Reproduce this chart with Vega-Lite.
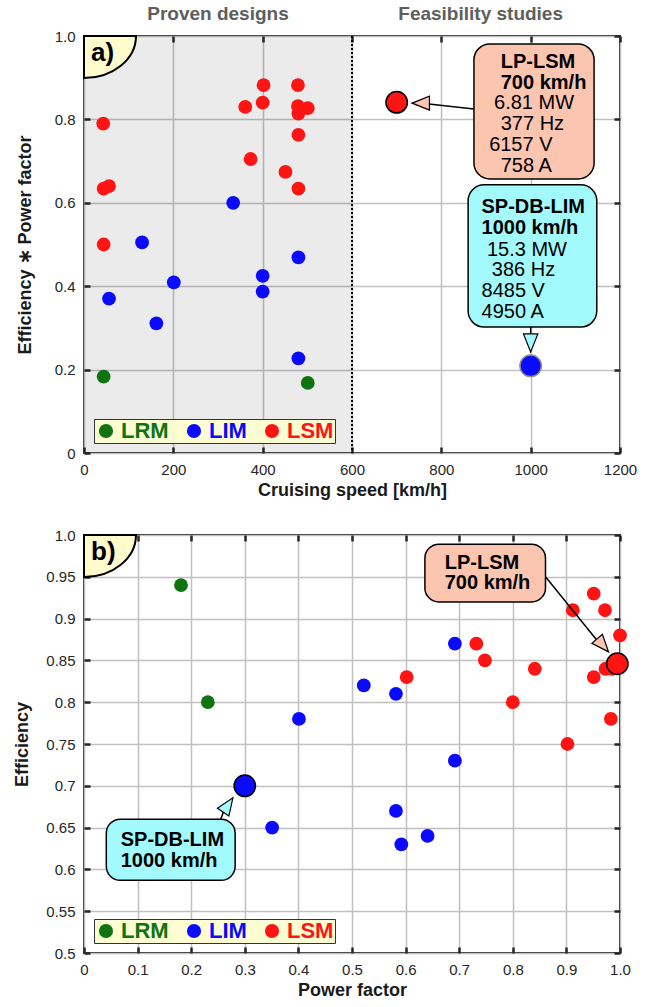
{
  "$schema": "https://vega.github.io/schema/vega-lite/v6.json",
  "padding": {"left": 12, "top": 4, "right": 5, "bottom": 5},
  "background": "white",
  "spacing": 27,
  "config": {
    "font": "Liberation Sans",
    "view": {"stroke": "#262626", "strokeWidth": 2},
    "axis": {
      "labelFont": "Liberation Sans", "labelFontSize": 15, "labelColor": "#262626",
      "titleFont": "Liberation Sans", "titleFontSize": 18, "titleFontWeight": "bold", "titleColor": "#1a1a1a",
      "gridColor": "#c0c0c0", "gridWidth": 1.5, "gridOpacity": 1,
      "domain": false, "tickColor": "#262626", "tickWidth": 2.5, "tickSize": -6,
      "labelPadding": 15, "labelFlush": false, "labelOverlap": false, "titlePadding": 4
    },
    "legend": {
      "orient": "bottom-left", "offset": 10, "direction": "horizontal",
      "fillColor": "#fdfdd3", "strokeColor": "#333333", "padding": 1,
      "symbolSize": 200, "symbolType": "circle", "symbolStrokeWidth": 0, "symbolOpacity": 1,
      "labelFont": "Liberation Sans", "labelFontSize": 22, "labelFontWeight": "bold",
      "labelOffset": 4, "columnPadding": 14
    },
    "text": {"font": "Liberation Sans"}
  },
  "datasets": {
    "one": [{"k": 1}],
    "speedData": [
      {"type": "LSM", "speed": 43, "value": 0.79},
      {"type": "LSM", "speed": 44, "value": 0.634},
      {"type": "LSM", "speed": 56, "value": 0.64},
      {"type": "LSM", "speed": 44, "value": 0.5},
      {"type": "LSM", "speed": 402, "value": 0.882},
      {"type": "LSM", "speed": 479, "value": 0.882},
      {"type": "LSM", "speed": 361, "value": 0.83},
      {"type": "LSM", "speed": 400, "value": 0.84},
      {"type": "LSM", "speed": 479, "value": 0.832},
      {"type": "LSM", "speed": 501, "value": 0.827},
      {"type": "LSM", "speed": 480, "value": 0.814},
      {"type": "LSM", "speed": 480, "value": 0.763},
      {"type": "LSM", "speed": 373, "value": 0.705},
      {"type": "LSM", "speed": 451, "value": 0.674},
      {"type": "LSM", "speed": 480, "value": 0.634},
      {"type": "LIM", "speed": 334, "value": 0.6},
      {"type": "LIM", "speed": 130, "value": 0.505},
      {"type": "LIM", "speed": 480, "value": 0.469},
      {"type": "LIM", "speed": 400, "value": 0.425},
      {"type": "LIM", "speed": 400, "value": 0.387},
      {"type": "LIM", "speed": 201, "value": 0.409},
      {"type": "LIM", "speed": 56, "value": 0.37},
      {"type": "LIM", "speed": 162, "value": 0.311},
      {"type": "LIM", "speed": 480, "value": 0.227},
      {"type": "LRM", "speed": 44, "value": 0.183},
      {"type": "LRM", "speed": 501, "value": 0.168}
    ],
    "pfData": [
      {"type": "LSM", "pf": 0.732, "eff": 0.87},
      {"type": "LSM", "pf": 0.748, "eff": 0.85},
      {"type": "LSM", "pf": 0.602, "eff": 0.83},
      {"type": "LSM", "pf": 0.841, "eff": 0.84},
      {"type": "LSM", "pf": 0.8, "eff": 0.8},
      {"type": "LSM", "pf": 0.951, "eff": 0.93},
      {"type": "LSM", "pf": 0.912, "eff": 0.91},
      {"type": "LSM", "pf": 0.972, "eff": 0.91},
      {"type": "LSM", "pf": 1.0, "eff": 0.88},
      {"type": "LSM", "pf": 0.951, "eff": 0.83},
      {"type": "LSM", "pf": 0.973, "eff": 0.84},
      {"type": "LSM", "pf": 0.983, "eff": 0.78},
      {"type": "LSM", "pf": 0.902, "eff": 0.75},
      {"type": "LSM", "pf": 0.99, "eff": 0.845},
      {"type": "LSM", "pf": 0.985, "eff": 0.84},
      {"type": "LIM", "pf": 0.401, "eff": 0.78},
      {"type": "LIM", "pf": 0.692, "eff": 0.87},
      {"type": "LIM", "pf": 0.522, "eff": 0.82},
      {"type": "LIM", "pf": 0.582, "eff": 0.81},
      {"type": "LIM", "pf": 0.351, "eff": 0.65},
      {"type": "LIM", "pf": 0.692, "eff": 0.73},
      {"type": "LIM", "pf": 0.582, "eff": 0.67},
      {"type": "LIM", "pf": 0.641, "eff": 0.64},
      {"type": "LIM", "pf": 0.592, "eff": 0.63},
      {"type": "LRM", "pf": 0.181, "eff": 0.94},
      {"type": "LRM", "pf": 0.231, "eff": 0.8}
    ],
    "highlight": [
      {"type": "LSM", "name": "LP-LSM", "speed": 700, "value": 0.841, "pf": 0.995, "eff": 0.846},
      {"type": "LIM", "name": "SP-DB-LIM", "speed": 1000, "value": 0.209, "pf": 0.3, "eff": 0.7}
    ]
  },
  "resolve": {"legend": {"color": "independent"}, "scale": {"color": "independent"}},
  "vconcat": [
    {
      "width": 536, "height": 417,
      "resolve": {"axis": {"x": "independent", "y": "independent"}},
      "layer": [
        {
          "data": {"name": "one"},
          "mark": {"type": "rect", "fill": "#000000", "opacity": 0.08},
          "encoding": {
            "x": {"datum": 0, "type": "quantitative", "axis": null},
            "x2": {"datum": 600},
            "y": {"datum": 0, "type": "quantitative", "axis": null},
            "y2": {"datum": 1}
          }
        },
        {
          "data": {"name": "one"},
          "mark": {"type": "rule", "stroke": "#000000", "strokeWidth": 2, "strokeDash": [2, 2]},
          "encoding": {"x": {"datum": 600, "type": "quantitative", "axis": null}}
        },
        {
          "data": {"name": "speedData"},
          "mark": {"type": "point", "filled": true, "size": 190, "opacity": 1, "strokeWidth": 0},
          "encoding": {
            "x": {"field": "speed", "type": "quantitative", "scale": {"domain": [0, 1200], "nice": false},
                  "axis": {"orient": "bottom", "values": [0, 200, 400, 600, 800, 1000, 1200], "format": "d", "title": "Cruising speed [km/h]", "grid": true}},
            "y": {"field": "value", "type": "quantitative", "scale": {"domain": [0, 1], "nice": false},
                  "axis": {"orient": "left", "values": [0, 0.2, 0.4, 0.6, 0.8, 1], "labelExpr": "datum.value == 0 ? '0' : format(datum.value, '.1f')",
                           "title": "Efficiency  ∗ Power factor", "grid": true, "titlePadding": 20}},
            "color": {"field": "type", "type": "nominal",
                      "scale": {"domain": ["LRM", "LIM", "LSM"], "range": ["#0f730f", "#0a0aff", "#ff1414"]},
                      "legend": {"title": null, "encode": {"labels": {"update": {"fill": {"signal": "datum.value === 'LRM' ? '#0f730f' : datum.value === 'LIM' ? '#0a0aff' : '#ff1414'"}}}}}}
          }
        },
        {
          "data": {"name": "one"},
          "mark": {"type": "rule", "stroke": "#000000", "strokeWidth": 1.5},
          "encoding": {
            "x": {"datum": 873, "type": "quantitative", "axis": null}, "y": {"datum": 0.825, "type": "quantitative", "axis": null},
            "x2": {"datum": 772}, "y2": {"datum": 0.837}
          }
        },
        {
          "data": {"name": "one"},
          "mark": {"type": "rule", "stroke": "#000000", "strokeWidth": 1.5},
          "encoding": {
            "x": {"datum": 1000, "type": "quantitative", "axis": null}, "y": {"datum": 0.302, "type": "quantitative", "axis": null},
            "x2": {"datum": 1000}, "y2": {"datum": 0.285}
          }
        },
        {
          "data": {"name": "one"},
          "mark": {"type": "point", "shape": "M0,-1L0.8,1L-0.8,1Z", "size": 300, "filled": true, "fill": "#fbc5b0", "stroke": "#000000", "strokeWidth": 1.2, "opacity": 1, "angle": 270},
          "encoding": {"x": {"datum": 754, "type": "quantitative", "axis": null}, "y": {"datum": 0.839, "type": "quantitative", "axis": null}}
        },
        {
          "data": {"name": "one"},
          "mark": {"type": "point", "shape": "M0,-1L0.8,1L-0.8,1Z", "size": 324, "filled": true, "fill": "#a3fafd", "stroke": "#000000", "strokeWidth": 1.2, "opacity": 1, "angle": 180},
          "encoding": {"x": {"datum": 1000, "type": "quantitative", "axis": null}, "y": {"datum": 0.264, "type": "quantitative", "axis": null}}
        },
        {
          "data": {"name": "highlight"},
          "mark": {"type": "point", "filled": true, "size": 460, "opacity": 1, "strokeWidth": 1.5},
          "encoding": {
            "x": {"field": "speed", "type": "quantitative", "axis": null},
            "y": {"field": "value", "type": "quantitative", "axis": null},
            "color": {"field": "type", "type": "nominal", "legend": null},
            "stroke": {"condition": {"test": "datum.type === 'LIM'", "value": "#8c8c8c"}, "value": "#000000"}
          }
        },
        {
          "data": {"name": "one"},
          "mark": {"type": "rect", "fill": "#fbc5b0", "stroke": "#000000", "strokeWidth": 1.5, "cornerRadius": 16},
          "encoding": {
            "x": {"datum": 873, "type": "quantitative", "axis": null}, "x2": {"datum": 1142},
            "y": {"datum": 0.981, "type": "quantitative", "axis": null}, "y2": {"datum": 0.657}
          }
        },
        {
          "data": {"name": "one"},
          "mark": {"type": "rect", "fill": "#a3fafd", "stroke": "#000000", "strokeWidth": 1.5, "cornerRadius": 16},
          "encoding": {
            "x": {"datum": 860, "type": "quantitative", "axis": null}, "x2": {"datum": 1148},
            "y": {"datum": 0.643, "type": "quantitative", "axis": null}, "y2": {"datum": 0.302}
          }
        },
        {
          "data": {"name": "one"},
          "mark": {"type": "text", "text": ["LP-LSM", "700 km/h"], "align": "left", "baseline": "top", "fontSize": 20, "fontWeight": "bold", "lineHeight": 20.8, "color": "#000000"},
          "encoding": {"x": {"datum": 933, "type": "quantitative", "axis": null}, "y": {"datum": 0.961, "type": "quantitative", "axis": null}}
        },
        {
          "data": {"name": "one"},
          "mark": {"type": "text", "text": "6.81 MW", "align": "left", "baseline": "middle", "fontSize": 20, "color": "#000000"},
          "encoding": {"x": {"datum": 918, "type": "quantitative", "axis": null}, "y": {"datum": 0.84, "type": "quantitative", "axis": null}}
        },
        {
          "data": {"name": "one"},
          "mark": {"type": "text", "text": "377 Hz", "align": "left", "baseline": "middle", "fontSize": 20, "color": "#000000"},
          "encoding": {"x": {"datum": 933, "type": "quantitative", "axis": null}, "y": {"datum": 0.789, "type": "quantitative", "axis": null}}
        },
        {
          "data": {"name": "one"},
          "mark": {"type": "text", "text": "6157 V", "align": "left", "baseline": "middle", "fontSize": 20, "color": "#000000"},
          "encoding": {"x": {"datum": 907, "type": "quantitative", "axis": null}, "y": {"datum": 0.739, "type": "quantitative", "axis": null}}
        },
        {
          "data": {"name": "one"},
          "mark": {"type": "text", "text": "758 A", "align": "left", "baseline": "middle", "fontSize": 20, "color": "#000000"},
          "encoding": {"x": {"datum": 933, "type": "quantitative", "axis": null}, "y": {"datum": 0.689, "type": "quantitative", "axis": null}}
        },
        {
          "data": {"name": "one"},
          "mark": {"type": "text", "text": ["SP-DB-LIM", "1000 km/h"], "align": "left", "baseline": "top", "fontSize": 20, "fontWeight": "bold", "lineHeight": 20.8, "color": "#000000"},
          "encoding": {"x": {"datum": 890, "type": "quantitative", "axis": null}, "y": {"datum": 0.613, "type": "quantitative", "axis": null}}
        },
        {
          "data": {"name": "one"},
          "mark": {"type": "text", "text": "15.3 MW", "align": "left", "baseline": "middle", "fontSize": 20, "color": "#000000"},
          "encoding": {"x": {"datum": 902, "type": "quantitative", "axis": null}, "y": {"datum": 0.488, "type": "quantitative", "axis": null}}
        },
        {
          "data": {"name": "one"},
          "mark": {"type": "text", "text": "386 Hz", "align": "left", "baseline": "middle", "fontSize": 20, "color": "#000000"},
          "encoding": {"x": {"datum": 913, "type": "quantitative", "axis": null}, "y": {"datum": 0.439, "type": "quantitative", "axis": null}}
        },
        {
          "data": {"name": "one"},
          "mark": {"type": "text", "text": "8485 V", "align": "left", "baseline": "middle", "fontSize": 20, "color": "#000000"},
          "encoding": {"x": {"datum": 890, "type": "quantitative", "axis": null}, "y": {"datum": 0.389, "type": "quantitative", "axis": null}}
        },
        {
          "data": {"name": "one"},
          "mark": {"type": "text", "text": "4950 A", "align": "left", "baseline": "middle", "fontSize": 20, "color": "#000000"},
          "encoding": {"x": {"datum": 890, "type": "quantitative", "axis": null}, "y": {"datum": 0.339, "type": "quantitative", "axis": null}}
        },
        {
          "data": {"name": "one"},
          "mark": {"type": "text", "text": "Proven designs", "align": "center", "baseline": "middle", "fontSize": 19, "fontWeight": "bold", "color": "#5e5e5e", "dy": -22},
          "encoding": {"x": {"datum": 300, "type": "quantitative", "axis": null}, "y": {"datum": 1, "type": "quantitative", "axis": null}}
        },
        {
          "data": {"name": "one"},
          "mark": {"type": "text", "text": "Feasibility studies", "align": "center", "baseline": "middle", "fontSize": 19, "fontWeight": "bold", "color": "#5e5e5e", "dy": -22},
          "encoding": {"x": {"datum": 888, "type": "quantitative", "axis": null}, "y": {"datum": 1, "type": "quantitative", "axis": null}}
        },
        {
          "data": {"name": "one"},
          "mark": {"type": "point", "shape": "M0,0L1,0A1,0.81,0,0,1,0,0.81Z", "size": 10816, "filled": true, "fill": "#fffbcc", "stroke": "#000000", "strokeWidth": 2, "opacity": 1},
          "encoding": {
            "x": {"datum": 0, "type": "quantitative", "axis": {"orient": "top", "labels": false, "grid": false, "title": null, "values": [0, 200, 400, 600, 800, 1000, 1200]}},
            "y": {"datum": 1, "type": "quantitative", "axis": {"orient": "right", "labels": false, "grid": false, "title": null, "values": [0, 0.2, 0.4, 0.6, 0.8, 1]}}
          }
        },
        {
          "data": {"name": "one"},
          "mark": {"type": "text", "text": "a)", "align": "left", "baseline": "top", "fontSize": 26, "fontWeight": "bold", "color": "#000000", "dx": 7, "dy": 4},
          "encoding": {"x": {"datum": 0, "type": "quantitative", "axis": null}, "y": {"datum": 1, "type": "quantitative", "axis": null}}
        }
      ]
    },
    {
      "width": 536, "height": 418,
      "resolve": {"axis": {"x": "independent", "y": "independent"}},
      "layer": [
        {
          "data": {"name": "pfData"},
          "mark": {"type": "point", "filled": true, "size": 190, "opacity": 1, "strokeWidth": 0},
          "encoding": {
            "x": {"field": "pf", "type": "quantitative", "scale": {"domain": [0, 1], "nice": false},
                  "axis": {"orient": "bottom", "values": [0, 0.1, 0.2, 0.3, 0.4, 0.5, 0.6, 0.7, 0.8, 0.9, 1], "labelExpr": "datum.value == 0 ? '0' : format(datum.value, '.1f')", "title": "Power factor", "grid": true}},
            "y": {"field": "eff", "type": "quantitative", "scale": {"domain": [0.5, 1], "nice": false, "zero": false},
                  "axis": {"orient": "left", "values": [0.5, 0.55, 0.6, 0.65, 0.7, 0.75, 0.8, 0.85, 0.9, 0.95, 1], "labelExpr": "datum.value == 1 ? '1.0' : format(datum.value, '.2~f')",
                           "title": "Efficiency", "grid": true, "titlePadding": 14}},
            "color": {"field": "type", "type": "nominal",
                      "scale": {"domain": ["LRM", "LIM", "LSM"], "range": ["#0f730f", "#0a0aff", "#ff1414"]},
                      "legend": {"title": null, "encode": {"labels": {"update": {"fill": {"signal": "datum.value === 'LRM' ? '#0f730f' : datum.value === 'LIM' ? '#0a0aff' : '#ff1414'"}}}}}}
          }
        },
        {
          "data": {"name": "one"},
          "mark": {"type": "rule", "stroke": "#000000", "strokeWidth": 1.5},
          "encoding": {
            "x": {"datum": 0.861, "type": "quantitative", "axis": null}, "y": {"datum": 0.95, "type": "quantitative", "axis": null},
            "x2": {"datum": 0.957}, "y2": {"datum": 0.874}
          }
        },
        {
          "data": {"name": "one"},
          "mark": {"type": "rule", "stroke": "#000000", "strokeWidth": 1.5},
          "encoding": {
            "x": {"datum": 0.255, "type": "quantitative", "axis": null}, "y": {"datum": 0.66, "type": "quantitative", "axis": null},
            "x2": {"datum": 0.261}, "y2": {"datum": 0.67}
          }
        },
        {
          "data": {"name": "one"},
          "mark": {"type": "point", "shape": "M0,-1L0.8,1L-0.8,1Z", "size": 300, "filled": true, "fill": "#fbc5b0", "stroke": "#000000", "strokeWidth": 1.2, "opacity": 1, "angle": 139},
          "encoding": {"x": {"datum": 0.968, "type": "quantitative", "axis": null}, "y": {"datum": 0.868, "type": "quantitative", "axis": null}}
        },
        {
          "data": {"name": "one"},
          "mark": {"type": "point", "shape": "M0,-1L0.8,1L-0.8,1Z", "size": 300, "filled": true, "fill": "#a3fafd", "stroke": "#000000", "strokeWidth": 1.2, "opacity": 1, "angle": 34},
          "encoding": {"x": {"datum": 0.2687, "type": "quantitative", "axis": null}, "y": {"datum": 0.677, "type": "quantitative", "axis": null}}
        },
        {
          "data": {"name": "highlight"},
          "mark": {"type": "point", "filled": true, "size": 460, "opacity": 1, "strokeWidth": 1.5, "stroke": "#000000"},
          "encoding": {
            "x": {"field": "pf", "type": "quantitative", "axis": null},
            "y": {"field": "eff", "type": "quantitative", "axis": null},
            "color": {"field": "type", "type": "nominal", "legend": null}
          }
        },
        {
          "data": {"name": "one"},
          "mark": {"type": "rect", "fill": "#fbc5b0", "stroke": "#000000", "strokeWidth": 1.5, "cornerRadius": 14},
          "encoding": {
            "x": {"datum": 0.636, "type": "quantitative", "axis": null}, "x2": {"datum": 0.861},
            "y": {"datum": 0.989, "type": "quantitative", "axis": null}, "y2": {"datum": 0.92}
          }
        },
        {
          "data": {"name": "one"},
          "mark": {"type": "rect", "fill": "#a3fafd", "stroke": "#000000", "strokeWidth": 1.5, "cornerRadius": 14},
          "encoding": {
            "x": {"datum": 0.0416, "type": "quantitative", "axis": null}, "x2": {"datum": 0.282},
            "y": {"datum": 0.66, "type": "quantitative", "axis": null}, "y2": {"datum": 0.587}
          }
        },
        {
          "data": {"name": "one"},
          "mark": {"type": "text", "text": ["LP-LSM", "700 km/h"], "align": "left", "baseline": "top", "fontSize": 20, "fontWeight": "bold", "lineHeight": 20.8, "color": "#000000"},
          "encoding": {"x": {"datum": 0.673, "type": "quantitative", "axis": null}, "y": {"datum": 0.979, "type": "quantitative", "axis": null}}
        },
        {
          "data": {"name": "one"},
          "mark": {"type": "text", "text": ["SP-DB-LIM", "1000 km/h"], "align": "left", "baseline": "top", "fontSize": 20, "fontWeight": "bold", "lineHeight": 20.8, "color": "#000000"},
          "encoding": {"x": {"datum": 0.0685, "type": "quantitative", "axis": null}, "y": {"datum": 0.647, "type": "quantitative", "axis": null}}
        },
        {
          "data": {"name": "one"},
          "mark": {"type": "point", "shape": "M0,0L1,0A1,0.81,0,0,1,0,0.81Z", "size": 10816, "filled": true, "fill": "#fffbcc", "stroke": "#000000", "strokeWidth": 2, "opacity": 1},
          "encoding": {
            "x": {"datum": 0, "type": "quantitative", "axis": {"orient": "top", "labels": false, "grid": false, "title": null, "values": [0, 0.1, 0.2, 0.3, 0.4, 0.5, 0.6, 0.7, 0.8, 0.9, 1]}},
            "y": {"datum": 1, "type": "quantitative", "axis": {"orient": "right", "labels": false, "grid": false, "title": null, "values": [0.5, 0.55, 0.6, 0.65, 0.7, 0.75, 0.8, 0.85, 0.9, 0.95, 1]}}
          }
        },
        {
          "data": {"name": "one"},
          "mark": {"type": "text", "text": "b)", "align": "left", "baseline": "top", "fontSize": 26, "fontWeight": "bold", "color": "#000000", "dx": 7, "dy": 4},
          "encoding": {"x": {"datum": 0, "type": "quantitative", "axis": null}, "y": {"datum": 1, "type": "quantitative", "axis": null}}
        }
      ]
    }
  ]
}
